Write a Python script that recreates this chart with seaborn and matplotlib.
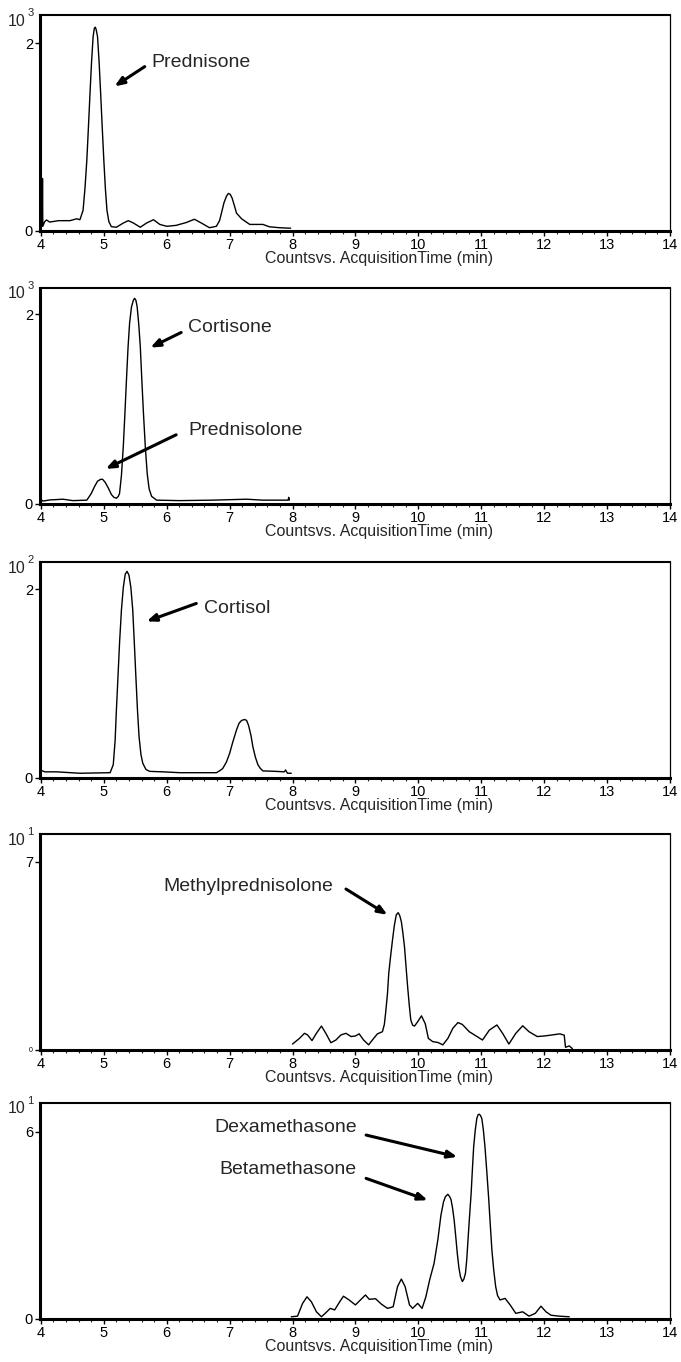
import matplotlib
matplotlib.use("Agg")
import matplotlib.pyplot as plt
from matplotlib.ticker import MultipleLocator
import seaborn as sns

# retention time (min) / signal
t_prednisone = [4.0, 4.01, 4.02, 4.025, 4.03, 4.06, 4.09, 4.14, 4.28, 4.46, 4.57, 4.62, 4.67, 4.70,
                4.73, 4.755, 4.78, 4.805, 4.83, 4.85, 4.865, 4.88, 4.90, 4.925, 4.95, 4.975, 5.00,
                5.025, 5.05, 5.08, 5.12, 5.20, 5.31, 5.39, 5.47, 5.58, 5.68,
                5.79, 5.89, 6.00, 6.15, 6.31, 6.44, 6.55, 6.68, 6.79, 6.84, 6.87, 6.91, 6.95, 6.98,
                7.01, 7.04, 7.08, 7.11, 7.19, 7.32, 7.53, 7.63, 7.79, 7.95, 7.97]
y_prednisone = [0.04, 0.05, 0.05, 0.56, 0.05, 0.10, 0.117, 0.095, 0.11, 0.11, 0.13, 0.12, 0.22, 0.45,
                0.755, 1.10, 1.46, 1.80, 2.07, 2.16, 2.17, 2.14, 2.07, 1.80, 1.46, 1.10, 0.755,
                0.45, 0.22, 0.10, 0.046, 0.04, 0.085, 0.11, 0.085, 0.04, 0.085,
                0.12, 0.07, 0.05, 0.06, 0.09, 0.125, 0.085, 0.035, 0.05, 0.11, 0.19, 0.30, 0.37, 0.40,
                0.39, 0.35, 0.26, 0.19, 0.13, 0.07, 0.07, 0.045, 0.035, 0.03, 0.03]

t_cortisone = [4.0, 4.03, 4.14, 4.35, 4.51, 4.73, 4.80, 4.85, 4.90, 4.95, 4.98, 5.02, 5.07, 5.12,
               5.16, 5.20, 5.23, 5.25, 5.28, 5.31, 5.335, 5.36, 5.385, 5.41, 5.44, 5.47, 5.49,
               5.51, 5.53, 5.555, 5.58, 5.605, 5.63, 5.66, 5.69, 5.72, 5.76, 5.84, 6.2, 6.73,
               7.27, 7.53, 7.93, 7.94, 7.95]
y_cortisone = [0.05, 0.03, 0.042, 0.05, 0.035, 0.04, 0.11, 0.18, 0.24, 0.26, 0.26, 0.23, 0.17, 0.10,
               0.07, 0.06, 0.08, 0.11, 0.30, 0.61, 0.95, 1.31, 1.65, 1.91, 2.08, 2.15, 2.17,
               2.15, 2.08, 1.90, 1.66, 1.30, 0.96, 0.60, 0.32, 0.16, 0.08, 0.04, 0.035, 0.04,
               0.05, 0.04, 0.04, 0.07, 0.04]

t_cortisol = [4.0, 4.01, 4.06, 4.25, 4.62, 5.10, 5.15, 5.18, 5.20, 5.225, 5.25, 5.28, 5.31, 5.34,
              5.37, 5.40, 5.43, 5.46, 5.485, 5.51, 5.535, 5.56, 5.59, 5.62, 5.67, 5.73, 5.94,
              6.21, 6.79, 6.85, 6.89, 6.95, 7.00, 7.05, 7.11, 7.15, 7.19, 7.24, 7.27, 7.30, 7.34,
              7.37, 7.41, 7.45, 7.49, 7.53, 7.74, 7.87, 7.89, 7.92, 7.98]
y_cortisol = [0.04, 0.08, 0.065, 0.065, 0.05, 0.056, 0.14, 0.40, 0.72, 1.07, 1.43, 1.78, 2.02, 2.16,
              2.19, 2.15, 2.02, 1.78, 1.43, 1.07, 0.72, 0.44, 0.25, 0.155, 0.09, 0.07, 0.065,
              0.056, 0.056, 0.08, 0.10, 0.17, 0.26, 0.38, 0.51, 0.58, 0.61, 0.62, 0.61, 0.56, 0.45,
              0.33, 0.22, 0.14, 0.10, 0.075, 0.07, 0.065, 0.085, 0.05, 0.05]

t_methyl = [8.00, 8.11, 8.19, 8.24, 8.31, 8.38, 8.46, 8.53, 8.61, 8.69, 8.77, 8.85, 8.93, 9.00,
            9.06, 9.13, 9.21, 9.29, 9.35, 9.43, 9.46, 9.48, 9.51, 9.53, 9.56, 9.59, 9.62, 9.65,
            9.68, 9.705, 9.73, 9.755, 9.78, 9.805, 9.83, 9.855, 9.88, 9.91, 9.94, 9.99, 10.05,
            10.11, 10.16, 10.23, 10.31, 10.39, 10.47, 10.55, 10.63, 10.70,
            10.81, 10.92, 11.02, 11.13, 11.25, 11.34, 11.44, 11.55, 11.66, 11.76, 11.89, 12.0,
            12.1, 12.25, 12.32, 12.34, 12.40, 12.45]
y_methyl = [0.22, 0.43, 0.62, 0.56, 0.35, 0.62, 0.89, 0.62, 0.27, 0.37, 0.56, 0.62, 0.50, 0.52,
            0.60, 0.37, 0.19, 0.43, 0.60, 0.68, 0.95, 1.37, 2.10, 2.85, 3.50, 4.10, 4.65, 5.03,
            5.11, 5.00, 4.78, 4.35, 3.85, 3.10, 2.36, 1.70, 1.12, 0.92, 0.89, 1.05, 1.27,
            0.98, 0.43, 0.31, 0.28, 0.19, 0.43, 0.81, 1.02, 0.95,
            0.68, 0.52, 0.37, 0.74, 0.93, 0.62, 0.22, 0.62, 0.90, 0.68, 0.50, 0.52,
            0.55, 0.60, 0.55, 0.10, 0.15, 0.05]

t_dexa = [7.98, 8.08, 8.16, 8.23, 8.30, 8.38, 8.46, 8.53, 8.60, 8.67, 8.75, 8.81, 8.90, 9.00,
          9.09, 9.16, 9.22, 9.32, 9.41, 9.51, 9.60, 9.67, 9.73, 9.79, 9.86, 9.91, 9.99, 10.06,
          10.12, 10.18, 10.25, 10.31, 10.36, 10.40, 10.43, 10.47, 10.50, 10.52, 10.545, 10.57,
          10.595, 10.62, 10.645, 10.67, 10.70, 10.725, 10.75, 10.77, 10.79, 10.815, 10.84,
          10.86, 10.88, 10.905, 10.93, 10.95, 10.97, 10.99, 11.01, 11.035, 11.06, 11.09, 11.12,
          11.145, 11.17, 11.20, 11.23, 11.26, 11.30,
          11.38, 11.46, 11.55, 11.66, 11.76, 11.86, 11.95, 12.03, 12.11, 12.24, 12.40]
y_dexa = [0.07, 0.09, 0.50, 0.71, 0.55, 0.23, 0.07, 0.20, 0.34, 0.29, 0.55, 0.73, 0.61, 0.45,
          0.63, 0.77, 0.63, 0.65, 0.48, 0.34, 0.39, 1.04, 1.28, 1.04, 0.45, 0.34, 0.50, 0.34,
          0.71, 1.25, 1.78, 2.53, 3.33, 3.75, 3.92, 4.00, 3.92, 3.83, 3.55, 3.17,
          2.65, 2.10, 1.65, 1.36, 1.20, 1.28, 1.47, 1.90, 2.53, 3.30, 4.03,
          4.80, 5.52, 6.05, 6.43, 6.55, 6.57, 6.52, 6.43, 6.05, 5.52, 4.70, 3.83,
          3.00, 2.21, 1.55, 1.04, 0.75, 0.61,
          0.66, 0.45, 0.18, 0.23, 0.09, 0.18, 0.41, 0.23, 0.12, 0.09, 0.07]

panels = [
    dict(t=t_prednisone, y=y_prednisone, ymax=2.30, yticks=[0, 2], exp="3",
         labels=[("Prednisone", (5.76, 1.79), (5.65, 1.75), (5.17, 1.54))]),
    dict(t=t_cortisone, y=y_cortisone, ymax=2.28, yticks=[0, 2], exp="3",
         labels=[("Cortisone", (6.34, 1.86), (6.23, 1.81), (5.74, 1.65)),
                 ("Prednisolone", (6.34, 0.78), (6.15, 0.73), (5.03, 0.37))]),
    dict(t=t_cortisol, y=y_cortisol, ymax=2.29, yticks=[0, 2], exp="2",
         labels=[("Cortisol", (6.60, 1.80), (6.47, 1.85), (5.68, 1.66))]),
    dict(t=t_methyl, y=y_methyl, ymax=8.04, yticks=[0, 7], exp="1",
         labels=[("Methylprednisolone", (5.94, 6.10), (8.85, 5.99), (9.51, 5.03))]),
    dict(t=t_dexa, y=y_dexa, ymax=6.93, yticks=[0, 6], exp="1",
         labels=[("Dexamethasone", (6.76, 6.15), (9.17, 5.90), (10.62, 5.20)),
                 ("Betamethasone", (6.84, 4.78), (9.17, 4.51), (10.15, 3.81))]),
]

sns.set_style("ticks")
plt.rcParams['font.family'] = ['Liberation Sans', 'DejaVu Sans']

fig = plt.figure(figsize=(6.81, 13.62), dpi=100)
bottoms = [0.8304, 0.6300, 0.4288, 0.2291, 0.0316]

for i, p in enumerate(panels):
    ax = fig.add_axes([0.0587, bottoms[i], 0.925, 0.1586])
    sns.lineplot(x=p["t"], y=p["y"], ax=ax, color="black", lw=1.0, sort=False)
    ax.set_xlim(3.985, 14.0)
    ax.set_ylim(0, p["ymax"])
    ax.set_xticks(range(4, 15))
    ax.xaxis.set_minor_locator(MultipleLocator(0.2))
    ax.set_yticks(p["yticks"])
    ax.set_yticklabels([str(v) for v in p["yticks"]])
    ax.tick_params(axis="both", direction="out", length=3.5, width=1, pad=1.5,
                   labelsize=10.5, colors="black")
    ax.tick_params(axis="x", which="minor", direction="out", length=2, width=0.8)
    if i == 3:
        ax.get_yticklabels()[0].set_fontsize(5)
    for side, w in [("left", 2.2), ("bottom", 2.2), ("top", 1.5), ("right", 0.9)]:
        ax.spines[side].set_linewidth(w)
        ax.spines[side].set_color("black")
    ax.set_xlabel("Countsvs. AcquisitionTime (min)", fontsize=11.5)
    ax.xaxis.set_label_coords(0.538, -0.092)
    ax.set_ylabel("")
    ax.text(-0.0365, 0.972, "10", transform=ax.transAxes, fontsize=11.5,
            ha="center", va="center")
    ax.text(-0.015, 1.01, p["exp"], transform=ax.transAxes, fontsize=8,
            ha="center", va="center")
    for name, txt, tail, head in p["labels"]:
        ax.text(txt[0], txt[1], name, fontsize=14, ha="left", va="center")
        ax.annotate("", xy=head, xytext=tail,
                    arrowprops=dict(arrowstyle="-|>,head_length=0.55,head_width=0.22",
                                    lw=2.2, color="black", shrinkA=0, shrinkB=0))

fig.savefig("out.png", dpi=100)
